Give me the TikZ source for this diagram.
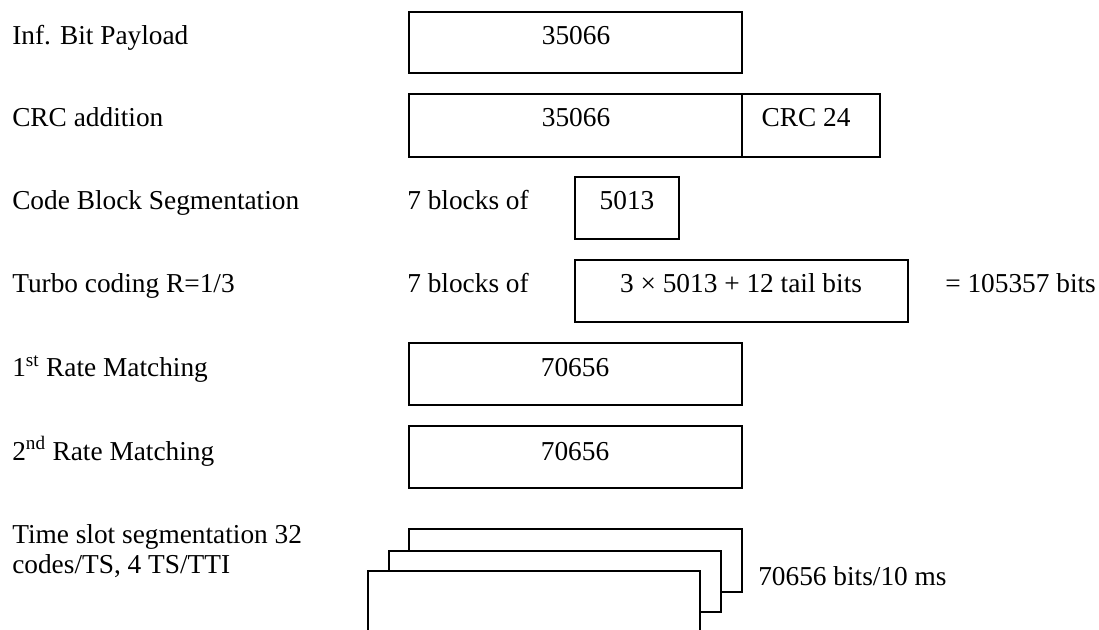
\documentclass[tikz,border=0pt]{standalone}
\usepackage{fontspec}
\setmainfont{Liberation Serif}
\usetikzlibrary{fit}
\begin{document}
\begin{tikzpicture}[x=0.75pt,y=-0.75pt,
  box/.style={draw,line width=1pt,inner sep=0pt,fill=white},
  txt/.style={inner sep=0pt,font=\fontsize{20.5}{24}\selectfont},
  lbl/.style={txt,anchor=base west},
  val/.style={txt,anchor=base}]
\useasboundingbox (0,0) rectangle (1099,630);
\clip (0,0) rectangle (1099,630);
% left labels
\node[lbl] (l1) at (12,45) {Inf. Bit Payload};
\node[lbl] (l2) at (12,127) {CRC addition};
\node[lbl] (l3) at (12,210) {Code Block Segmentation};
\node[lbl] (l4) at (12,293) {Turbo coding R=1/3};
\node[lbl] (l5) at (12,377) {1\textsuperscript{st} Rate Matching};
\node[lbl] (l6) at (12,460) {2\textsuperscript{nd} Rate Matching};
\node[lbl] (l7) at (12,543) {Time slot segmentation 32};
\node[lbl] (l8) at (12,573) {codes/TS, 4 TS/TTI};
% boxes
\node[box,fit={(409,12)(742,73)}] (b1) {};
\node[box,fit={(409,94)(742,157)}] (b2a) {};
\node[box,fit={(742,94)(880,157)}] (b2b) {};
\node[box,fit={(575,177)(679,239)}] (b3) {};
\node[box,fit={(575,260)(908,322)}] (b4) {};
\node[box,fit={(409,343)(742,405)}] (b5) {};
\node[box,fit={(409,426)(742,488)}] (b6) {};
\node[box,fit={(409,529)(742,592)}] (s1) {};
\node[box,fit={(389,551)(721,612)}] (s2) {};
\node[box,fit={(368,571)(700,680)}] (s3) {};
% texts
\node[val] (t1) at (576,45) {35066};
\node[val] (t2) at (576,127) {35066};
\node[val] (t3) at (806,127) {CRC 24};
\node[lbl] (k1) at (407,210) {7 blocks of};
\node[val] (t4) at (627,210) {5013};
\node[lbl] (k2) at (407,293) {7 blocks of};
\node[val] (t5) at (741,293) {3 × 5013 + 12 tail bits};
\node[lbl] (t6) at (945,293) {= 105357 bits};
\node[val] (t7) at (575,377) {70656};
\node[val] (t8) at (575,460) {70656};
\node[lbl] (t9) at (758,585) {70656 bits/10 ms};
\end{tikzpicture}
\end{document}
